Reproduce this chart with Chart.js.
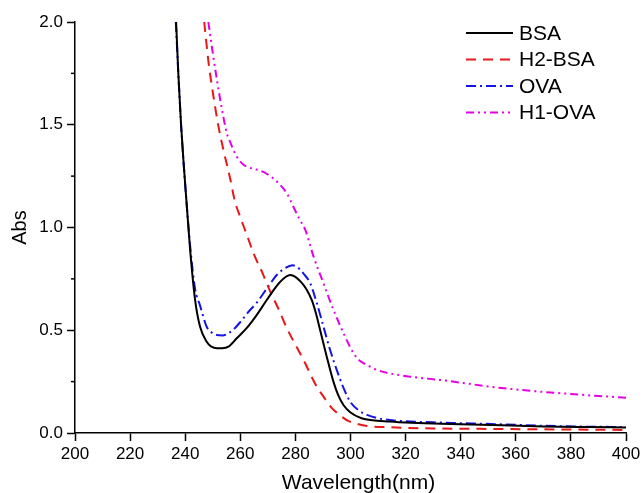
<!DOCTYPE html>
<html>
<head>
<meta charset="utf-8">
<script src="https://cdn.jsdelivr.net/npm/chart.js@4/dist/chart.umd.min.js"></script>
<style>
  html, body { margin: 0; padding: 0; background: #fff; }
  #wrap { width: 644px; height: 493px; }
</style>
</head>
<body>
<div id="wrap"><canvas id="myChart" width="644" height="493"></canvas></div>
<script>
// UV-vis spectra, values
let bsaX = [236.7, 237.5, 238.5, 239.5, 240.5, 241.8, 243.6, 245.4, 247.8, 249.5, 251.5, 253.5, 255.7, 258.7, 262.3, 266, 269.6, 274.5, 278.1, 280, 282, 284, 286, 287.5, 289, 291.4, 293.8, 295.5, 297.5, 300, 304, 308, 314, 320, 330, 340, 355, 370, 385, 400];
let bsaY = [2.0, 1.75, 1.5, 1.3, 1.12, 0.89, 0.647, 0.517, 0.444, 0.42, 0.412, 0.412, 0.42, 0.461, 0.51, 0.575, 0.647, 0.736, 0.769, 0.76, 0.735, 0.70, 0.645, 0.58, 0.5, 0.37, 0.25, 0.185, 0.135, 0.1, 0.072, 0.062, 0.056, 0.051, 0.046, 0.043, 0.038, 0.032, 0.029, 0.027];

let h2bsaX = [246.9, 248.5, 250, 252.1, 254, 256.3, 258, 260, 262.5, 264.8, 268, 270.8, 274, 276.9, 281, 283, 286, 288, 290.2, 293, 296.3, 299, 302.3, 306, 314, 330, 350, 370, 400];
let h2bsaY = [2.0, 1.8, 1.66, 1.49, 1.37, 1.24, 1.13, 1.05, 0.96, 0.874, 0.78, 0.69, 0.6, 0.51, 0.405, 0.355, 0.27, 0.22, 0.177, 0.125, 0.085, 0.06, 0.045, 0.034, 0.028, 0.022, 0.02, 0.018, 0.015];

let ovaX = [236.6, 237.5, 238.5, 239.5, 240.5, 241.8, 243.6, 245.4, 247.8, 249.5, 251.5, 253.5, 255.7, 258, 260, 263, 266, 270, 273.3, 276, 279, 281.5, 283, 285.4, 287.8, 290.2, 292.6, 295, 297.5, 300, 303, 306, 310, 315, 320, 330, 340, 355, 370, 385, 400];
let ovaY = [2.0, 1.75, 1.5, 1.3, 1.12, 0.91, 0.7, 0.62, 0.517, 0.49, 0.477, 0.475, 0.485, 0.51, 0.54, 0.59, 0.635, 0.71, 0.77, 0.8, 0.816, 0.798, 0.775, 0.728, 0.631, 0.517, 0.404, 0.307, 0.218, 0.15, 0.11, 0.088, 0.072, 0.062, 0.057, 0.052, 0.048, 0.042, 0.035, 0.031, 0.029];

let h1ovaX = [248.4, 250, 251.5, 253, 255.1, 256.5, 258.5, 260.6, 262.5, 265, 267.5, 270, 273.3, 276.9, 279.3, 281.5, 283.6, 286.6, 290.2, 293.8, 297.5, 301.1, 303.5, 306, 309, 313.2, 321.7, 332.6, 340, 350.8, 360, 370, 380, 390, 400];
let h1ovaY = [2.0, 1.85, 1.72, 1.6, 1.46, 1.41, 1.35, 1.312, 1.295, 1.285, 1.275, 1.258, 1.223, 1.166, 1.10, 1.04, 0.988, 0.858, 0.728, 0.6, 0.485, 0.388, 0.35, 0.331, 0.31, 0.293, 0.274, 0.258, 0.245, 0.225, 0.212, 0.2, 0.19, 0.18, 0.172];

let seriesNames = ['BSA', 'H2-BSA', 'OVA', 'H1-OVA'];
let xTicks = { min: 200, max: 400, step: 20 };
let yTicks = { min: 0, max: 2, step: 0.5 };
let xTitle = 'Wavelength(nm)';
let yTitle = 'Abs';

let fontFamily = '"Liberation Sans", Arial, sans-serif';

function toPoints(xs, ys) {
    return xs.map((x, i) => ({ x: x, y: ys[i] }));
}

// legend drawn inside the plot, top right
let insideLegend = {
    id: 'insideLegend',
    afterDraw(chart) {
        let c = chart.ctx;
        let area = chart.chartArea;
        let x0 = area.right - 160;
        let y0 = area.top + 11;
        c.save();
        c.font = '21px ' + fontFamily;
        c.textBaseline = 'middle';
        chart.data.datasets.forEach((ds, i) => {
            let y = y0 + i * 26.5;
            c.strokeStyle = ds.borderColor;
            c.lineWidth = ds.borderWidth;
            c.setLineDash(ds.borderDash || []);
            c.beginPath();
            c.moveTo(x0, y);
            c.lineTo(x0 + 47, y);
            c.stroke();
            c.setLineDash([]);
            c.fillStyle = '#000';
            c.fillText(ds.label, x0 + 53, y + 1);
        });
        c.restore();
    }
};

// short minor ticks on the y axis + x axis title (sits a bit right of centre)
let axisExtras = {
    id: 'axisExtras',
    afterDraw(chart) {
        let c = chart.ctx;
        let ys = chart.scales.y;
        let xs = chart.scales.x;
        c.save();
        c.strokeStyle = '#000';
        c.lineWidth = 1.5;
        for (let v = yTicks.min + yTicks.step / 2; v < yTicks.max; v += yTicks.step) {
            let py = ys.getPixelForValue(v);
            c.beginPath();
            c.moveTo(ys.right - 4, py);
            c.lineTo(ys.right, py);
            c.stroke();
        }
        c.font = '21px ' + fontFamily;
        c.fillStyle = '#000';
        c.textAlign = 'center';
        c.textBaseline = 'alphabetic';
        c.fillText(xTitle, (xs.left + xs.right) / 2 + 8, xs.bottom - 4);
        c.restore();
    }
};

let ctx = document.getElementById('myChart').getContext('2d');

let myChart = new Chart(ctx, {
    type: 'line',
    data: {
        datasets: [{
            label: seriesNames[0],
            data: toPoints(bsaX, bsaY),
            borderColor: '#000000',
            borderWidth: 2,
            borderDash: []
        }, {
            label: seriesNames[1],
            data: toPoints(h2bsaX, h2bsaY),
            borderColor: 'rgb(232, 24, 24)',
            borderWidth: 2,
            borderDash: [10, 7]
        }, {
            label: seriesNames[2],
            data: toPoints(ovaX, ovaY),
            borderColor: 'rgb(20, 20, 230)',
            borderWidth: 2,
            borderDash: [10, 4, 2, 4]
        }, {
            label: seriesNames[3],
            data: toPoints(h1ovaX, h1ovaY),
            borderColor: 'rgb(230, 0, 230)',
            borderWidth: 2,
            borderDash: [8, 4, 2, 4, 2, 4]
        }]
    },
    options: {
        responsive: false,
        animation: false,
        elements: {
            point: { radius: 0 },
            line: { cubicInterpolationMode: 'monotone' }
        },
        layout: {
            padding: { top: 22, right: 18, left: 0, bottom: 0 }
        },
        scales: {
            x: {
                type: 'linear',
                min: xTicks.min,
                max: xTicks.max,
                afterFit: function(scale) { scale.height = 60; },
                ticks: {
                    stepSize: xTicks.step,
                    color: '#000',
                    padding: 3,
                    maxRotation: 0,
                    font: { family: fontFamily, size: 17 }
                },
                grid: {
                    drawOnChartArea: false,
                    tickLength: 8,
                    tickColor: '#000',
                    tickWidth: 1.5
                },
                border: { color: '#000', width: 1.5 },
                title: { display: false }
            },
            y: {
                min: yTicks.min,
                max: yTicks.max,
                afterFit: function(scale) { scale.width = 75; },
                ticks: {
                    stepSize: yTicks.step,
                    color: '#000',
                    padding: 4,
                    font: { family: fontFamily, size: 17 },
                    callback: function(value) {
                        return value.toFixed(1);
                    }
                },
                grid: {
                    drawOnChartArea: false,
                    tickLength: 8,
                    tickColor: '#000',
                    tickWidth: 1.5
                },
                border: { color: '#000', width: 1.5 },
                title: {
                    display: true,
                    text: yTitle,
                    color: '#000',
                    padding: { top: 10, bottom: 0 },
                    font: { family: fontFamily, size: 20, lineHeight: 1.0 }
                }
            }
        },
        plugins: {
            legend: { display: false },
            tooltip: { enabled: false }
        }
    },
    plugins: [insideLegend, axisExtras]
});
</script>
</body>
</html>
